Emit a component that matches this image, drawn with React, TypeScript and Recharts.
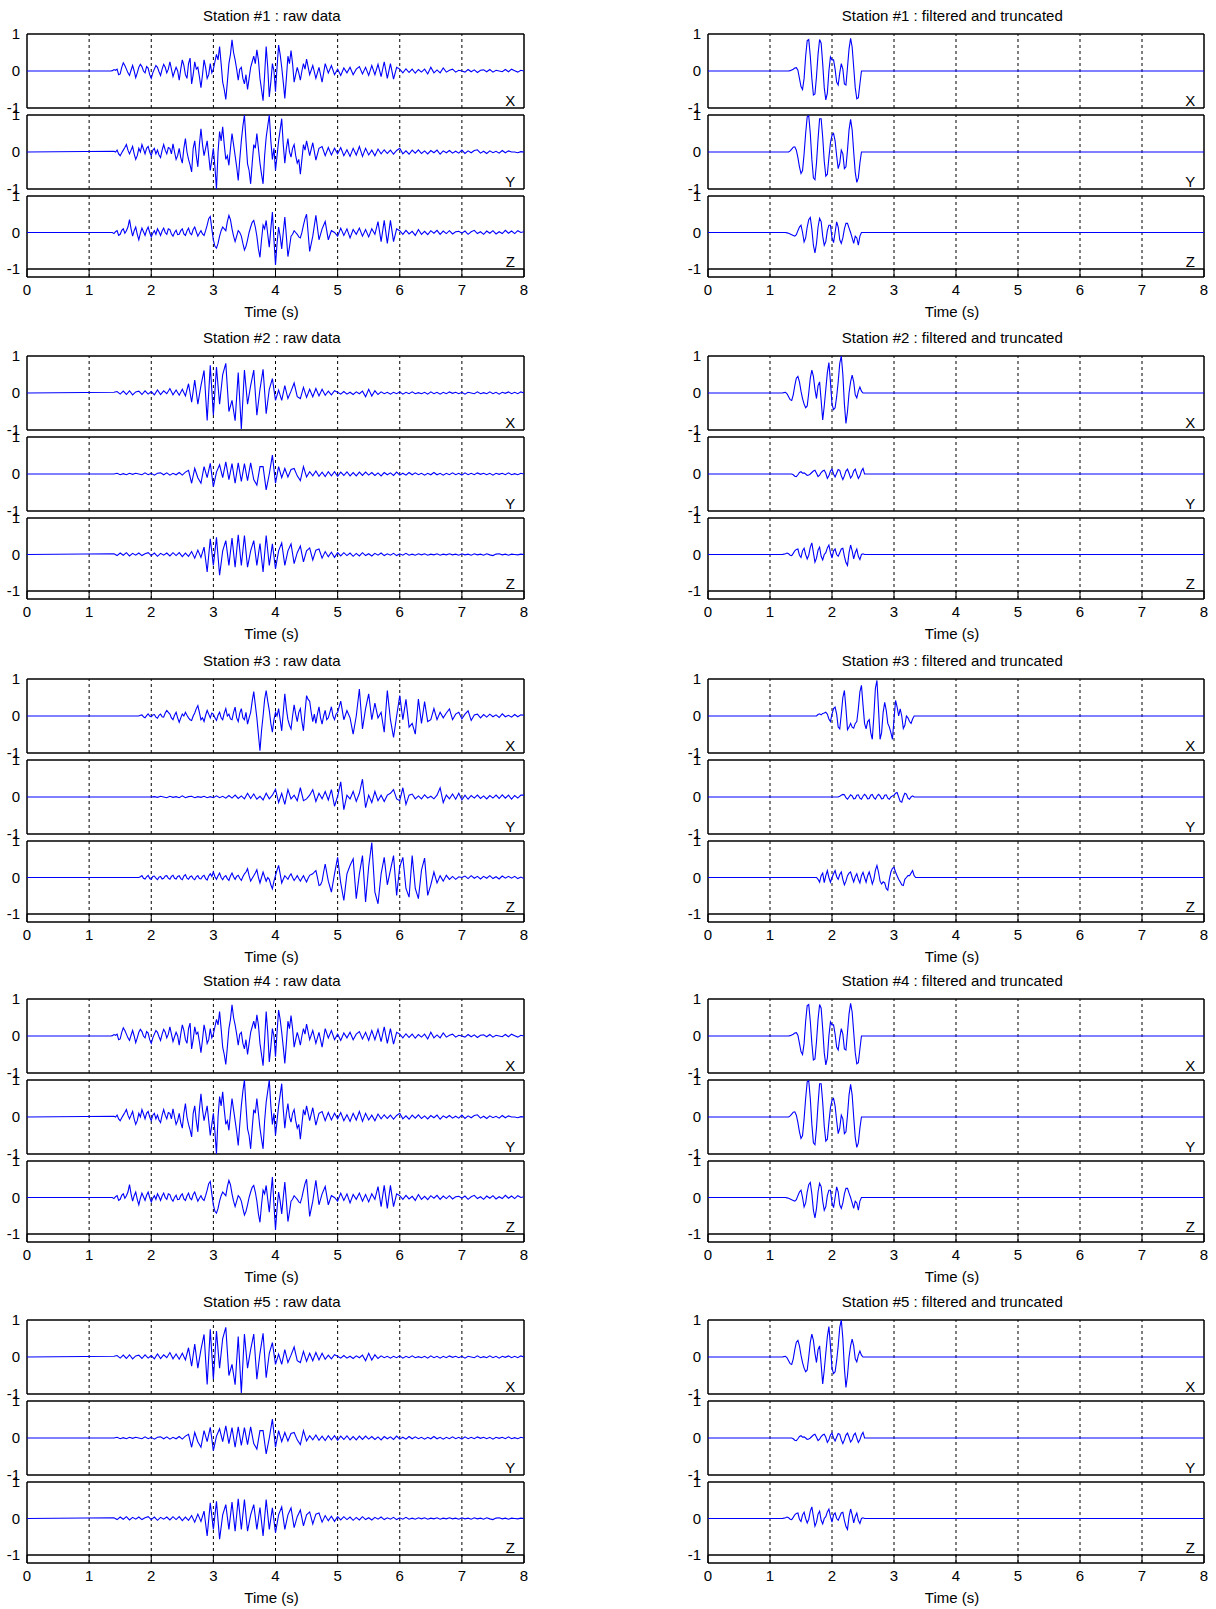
import React from 'react';
import { LineChart, Line, XAxis, YAxis, ReferenceLine, ReferenceDot } from 'recharts';

// ---------- axis / label data ----------
const TIME_TICKS = [0, 1, 2, 3, 4, 5, 6, 7, 8];
const GRID_TIMES = [1, 2, 3, 4, 5, 6, 7];
const AMP_TICKS = [-1, 0, 1];
const COMPONENT_LABELS = ['X', 'Y', 'Z'];
const STATION_TITLES = ['Station #1', 'Station #2', 'Station #3', 'Station #4', 'Station #5'];
const RAW_SUFFIX = ' : raw data';
const FILT_SUFFIX = ' : filtered and truncated';
const X_LABEL = 'Time (s)';

const FINE_DT = 0.025;
const COARSE_DT = 0.05;

// ---------- raw traces: fine head (every 0.025 s) + coarse tail (every 0.05 s) ----------
const raw1XHeadStart = 1.35;
const raw1XHead = [
  0, 0.01, 0.04, 0.02, 0.05, -0.1, -0.08, 0.1, 0.22, 0.15, 0.05, -0.05, -0.12, 0.02, 0.15, 0.0, -0.18, -0.05, 0.1, 0.18,
  0.12, 0.0, -0.05, 0.12, 0.08, -0.1, -0.2, -0.05, 0.05, 0.15, 0.1, -0.02, -0.12, 0.05, 0.18, 0.1, -0.05, 0.05, 0.25, 0.05,
  -0.15, -0.02, 0.1, 0.0, -0.25, 0.05, 0.3, 0.15, -0.1, -0.2, 0.2, 0.35, -0.35, -0.1, 0.25, 0.05, 0.1, -0.15, -0.45, -0.1,
  0.3, 0.1, -0.2, -0.1, 0.2, -0.05, 0.05, 0.25, 0.45, 0.3, 0.66, 0.2, -0.3, -0.5, -0.77, -0.3, 0.2, 0.45, 0.84, 0.5,
  0.3, 0.05, -0.25, 0.05, 0.1, -0.2, -0.35, -0.1, -0.5, -0.2, 0.1, 0.25, 0.4, 0.2, 0.57, 0.3, -0.2, -0.5, -0.8, -0.1,
  0.66, 0.1, -0.7, -0.3, 0.2, 0.0, -0.56, 0.1, 0.7, 0.45, 0.1, -0.3, -0.74, -0.2, 0.4, 0.2, 0.55, 0.2, -0.3, -0.1,
  0.1, -0.05, -0.25, 0.0, 0.2, 0.05,
];
const raw1XTailStart = 4.5;
const raw1XTail = [
  0.32, -0.1, 0.15, -0.2, 0.1, -0.3, 0.2,
  -0.05, 0.15, -0.1, 0.05, -0.12, 0.08, -0.05, 0.1, -0.1, 0.05,
  0.12, -0.08, 0.1, -0.12, 0.15, -0.1, 0.18, -0.15, 0.25, -0.2,
  0.2, -0.22, 0.1, 0.05, -0.05, 0.06, -0.04, 0.05, -0.06, 0.04,
  -0.03, 0.05, -0.08, 0.1, -0.05, 0.03, -0.05, 0.08, -0.03, 0.02,
  0.05, -0.03, 0.02, 0.0, -0.03, 0.04, -0.02, 0.03, -0.04, 0.02,
  0.03, -0.02, 0.04, -0.03, 0.02, 0.0, -0.02, 0.04, -0.02, 0.05,
  0.01, -0.03, 0.02, 0.0,
];

const raw1YHeadStart = 1.4;
const raw1YHead = [
  0.02, 0.0, 0.05, -0.05, -0.1, -0.02, 0.05, 0.12, 0.2, 0.05, -0.05, 0.05, 0.15, -0.05, -0.2, -0.1, 0.1, 0.0, 0.2, 0.08,
  -0.05, 0.1, 0.15, 0.0, -0.1, 0.05, 0.1, -0.05, 0.05, -0.08, -0.15, 0.05, 0.2, 0.05, -0.05, 0.12, 0.1, -0.05, 0.22, 0.0,
  -0.2, -0.1, 0.1, -0.15, -0.3, 0.1, 0.36, 0.0, -0.2, -0.35, -0.54, 0.1, 0.3, -0.1, -0.4, 0.2, 0.63, 0.2, -0.1, 0.1,
  0.3, -0.1, -0.5, -0.2, 0.1, -0.4, -1.0, 0.0, 0.55, 0.3, 0.68, 0.2, -0.2, -0.1, -0.36, 0.1, 0.5, 0.2, -0.1, -0.4,
  -0.77, -0.2, 0.3, 0.7, 1.0, 0.3, -0.32, -0.5, -0.86, -0.3, 0.2, 0.1, 0.5, 0.1, -0.3, -0.6, -0.86, -0.1, 0.4, 0.7,
  1.0, 0.3, -0.2, 0.1, -0.5, -0.1, 0.3, 0.6, 0.9, 0.2, -0.3, 0.1, 0.36, 0.0, -0.14, 0.1, 0.2, -0.1, -0.3, -0.2,
  -0.6, -0.2, 0.2, 0.05,
];
const raw1YTailStart = 4.5;
const raw1YTail = [
  0.3, -0.1, 0.25, -0.22, 0.1, 0.15, -0.1, 0.12,
  -0.08, 0.1, -0.05, 0.12, -0.1, 0.06, -0.12, 0.1, -0.08, 0.15,
  -0.12, 0.1, -0.08, 0.05, -0.1, 0.08, -0.05, 0.06, -0.04, 0.05,
  -0.06, 0.04, 0.1, -0.05, 0.03, -0.06, 0.05, -0.03, 0.06, -0.04,
  0.03, -0.05, 0.04, -0.02, 0.05, -0.06, 0.03, -0.02, 0.04, -0.03,
  0.02, -0.03, 0.05, -0.04, 0.03, -0.02, 0.04, 0.06, -0.03, 0.02,
  -0.04, 0.03, -0.02, 0.02, -0.03, 0.04, -0.02, 0.03, 0.0, 0.0,
  -0.02, 0.01, 0.0,
];

const raw1ZHeadStart = 1.35;
const raw1ZHead = [
  0, 0.0, -0.03, 0.02, 0.05, -0.08, -0.05, 0.06, 0.1, -0.02, 0.05, 0.15, 0.35, 0.1, -0.1, 0.05, 0.15, -0.05, -0.2, -0.02,
  0.12, 0.02, -0.08, 0.06, 0.15, 0.0, -0.12, -0.02, 0.05, -0.05, 0.1, 0.02, -0.08, 0.04, 0.12, 0.0, -0.05, 0.1, 0.08, -0.04,
  -0.1, 0.0, 0.06, -0.06, -0.05, 0.05, 0.1, -0.04, -0.08, 0.04, 0.12, -0.02, -0.06, 0.08, 0.15, 0.02, -0.1, -0.02, 0.05, -0.04,
  -0.08, 0.05, 0.2, 0.38, 0.44, 0.1, -0.2, -0.38, -0.43, -0.3, -0.1, 0.05, 0.15, 0.1, 0.05, 0.3, 0.47, 0.35, 0.1, -0.1,
  -0.25, -0.1, 0.05, 0.0, -0.1, -0.3, -0.48, -0.38, -0.2, 0.0, 0.15, 0.28, 0.33, 0.15, -0.1, -0.45, -0.68, -0.2, 0.2, 0.1,
  0.33, -0.05, -0.4, 0.1, 0.56, -0.2, -0.89, -0.3, 0.15, -0.1, -0.45, 0.0, 0.42, -0.1, -0.66, -0.4, -0.1, -0.05, 0.05, 0.0,
  -0.05, -0.12, -0.15, 0.0, 0.2, 0.38,
];
const raw1ZTailStart = 4.5;
const raw1ZTail = [
  0.5, -0.52, -0.1, 0.47, -0.2, 0.1, 0.3,
  -0.2, 0.05, 0.0, -0.1, 0.12, -0.08, 0.1, -0.15, 0.08, -0.05,
  0.12, -0.1, 0.08, -0.12, 0.1, -0.05, 0.3, -0.25, 0.33, -0.3,
  0.33, -0.25, 0.1, 0.05, -0.05, 0.06, -0.04, 0.03, -0.08, 0.08,
  -0.05, 0.03, -0.06, 0.05, -0.02, 0.06, -0.05, 0.04, -0.03, 0.05,
  -0.04, 0.02, 0.03, -0.02, 0.04, -0.05, 0.02, 0.06, -0.03, 0.02,
  -0.05, 0.04, -0.02, 0.05, -0.04, 0.02, -0.03, 0.06, -0.02, 0.04,
  -0.03, 0.05, 0.0, 0.02,
];

const raw2XStart = 1.4;
const raw2X = [
  0.02, 0.04, -0.03, 0.05, -0.04, 0.06, -0.05, 0.03, 0.05, -0.04,
  0.06, -0.03, 0.04, -0.05, 0.08, -0.04, 0.06, -0.02, 0.12, -0.05,
  0.08, -0.06, 0.1, -0.08, 0.25, -0.25, 0.35, -0.3, 0.2, 0.61,
  -0.74, 0.75, -0.6, 0.7, -0.3, 0.5, 0.8, -0.5, -0.2, -0.75,
  0.55, -0.97, 0.62, -0.3, 0.2, 0.62, -0.6, 0.1, 0.64, -0.56,
  0.1, 0.39, -0.2, 0.08, -0.2, 0.2, -0.15, 0.05, 0.27, -0.1,
  -0.15, 0.15, -0.12, 0.1, -0.1, 0.12, -0.08, 0.1, -0.06, 0.05,
  -0.05, 0.06, 0.02, -0.03, 0.04, -0.03, 0.02, -0.04, 0.03, -0.02,
  0.05, -0.1, 0.1, -0.08, 0.06, -0.04, 0.03, -0.02, 0.02, -0.03,
  0.02, -0.02, 0.03, -0.03, 0.02, -0.02, 0.03, -0.02, 0.01, -0.02,
  0.02, -0.03, 0.03, -0.02, 0.02, -0.03, 0.02, -0.02, 0.03, -0.01,
  0.02, -0.02, 0.02, -0.03, 0.02, 0.0, -0.02, 0.03, -0.02, 0.01,
  -0.02, 0.03, -0.02, 0.02, -0.03, 0.02, -0.01, 0.03, -0.02, 0.02,
  -0.02, 0.03, 0.0,
];

const raw2YStart = 1.4;
const raw2Y = [
  0.0, 0.02, -0.02, 0.01, -0.02, 0.02, -0.01, 0.02, 0.0, -0.02,
  0.03, -0.02, 0.02, -0.03, 0.02, 0.03, -0.02, 0.03, -0.03, 0.02,
  -0.02, 0.04, -0.03, 0.05, 0.1, -0.25, 0.15, -0.1, -0.25, 0.2,
  -0.1, 0.29, -0.34, 0.05, 0.25, -0.1, 0.33, -0.15, 0.28, -0.25,
  0.3, -0.2, 0.28, -0.18, 0.3, -0.15, -0.3, 0.2, 0.2, -0.43,
  0.0, 0.51, -0.25, 0.2, -0.1, 0.15, -0.08, 0.12, 0.15, -0.05,
  -0.18, 0.2, -0.08, 0.06, -0.05, 0.08, -0.06, 0.05, -0.07, 0.06,
  -0.05, 0.06, -0.06, 0.05, -0.04, 0.06, -0.05, 0.04, -0.05, 0.05,
  -0.04, 0.05, -0.03, 0.04, -0.04, 0.03, -0.05, 0.04, -0.02, 0.03,
  -0.04, 0.05, -0.03, 0.02, -0.03, 0.04, -0.02, 0.03, -0.02, 0.02,
  -0.03, 0.02, -0.02, 0.04, -0.02, 0.02, -0.03, 0.02, -0.02, 0.03,
  -0.02, 0.02, -0.03, 0.03, -0.02, 0.02, -0.02, 0.03, -0.01, 0.02,
  -0.02, 0.02, -0.03, 0.02, -0.01, 0.02, -0.02, 0.03, -0.02, 0.01,
  -0.02, 0.02, 0.0,
];

const raw2ZStart = 1.4;
const raw2Z = [
  0.02, -0.03, 0.04, -0.02, 0.05, -0.04, 0.03, -0.02, 0.04, -0.03,
  0.02, 0.05, -0.03, 0.04, -0.05, 0.03, -0.02, 0.04, -0.04, 0.05,
  -0.03, 0.05, -0.06, 0.04, -0.05, 0.08, -0.1, 0.12, -0.08, 0.2,
  -0.48, 0.43, -0.3, 0.47, -0.57, 0.1, 0.38, -0.3, 0.45, -0.35,
  0.54, -0.3, 0.52, -0.35, 0.1, 0.38, -0.3, 0.3, -0.48, 0.52,
  -0.3, 0.29, -0.39, 0.1, 0.32, -0.3, 0.1, 0.29, -0.25, 0.05,
  0.23, -0.2, 0.1, 0.18, -0.15, 0.12, 0.15, -0.1, 0.08, -0.06,
  0.06, -0.08, 0.05, -0.04, 0.05, -0.03, 0.04, -0.05, 0.03, -0.04,
  0.05, -0.03, 0.02, -0.04, 0.03, -0.02, 0.04, -0.03, 0.02, -0.02,
  0.03, -0.03, 0.02, -0.02, 0.03, -0.02, 0.01, -0.02, 0.02, -0.01,
  0.02, -0.02, 0.01, -0.01, 0.02, -0.02, 0.01, -0.01, 0.02, -0.01,
  0.01, -0.02, 0.02, -0.01, 0.01, -0.02, 0.02, -0.01, 0.01, -0.02,
  0.02, -0.01, -0.03, 0.01, 0.02, -0.01, 0.01, -0.02, 0.01, 0.0,
  -0.01, 0.01, 0.0,
];

const raw3XHeadStart = 1.8;
const raw3XHead = [
  0.0, 0.02, 0.03, -0.02, -0.05, 0.01, 0.06, 0.0, -0.02, 0.03, 0.04, -0.03, -0.06, 0.02, 0.05, -0.02, -0.03, 0.08, 0.15, 0.1,
  0.05, -0.05, -0.1, 0.02, 0.1, -0.05, -0.17, -0.05, 0.05, 0.0, 0.1, 0.02, -0.05, -0.1, -0.12, 0.0, 0.08, 0.2, 0.28, 0.1,
  -0.1, -0.05, -0.15, 0.02, 0.15, 0.05, -0.05, 0.08, 0.05, -0.05, -0.12, 0.02, 0.1, -0.05, -0.1, 0.08, 0.2, 0.0, 0.05, -0.08,
  -0.1, 0.1, 0.24, -0.05, -0.15, 0.08, 0.2, -0.05, -0.1, 0.1, -0.22, -0.05, 0.1, 0.4, 0.66, 0.3, -0.05, -0.5, -0.94, -0.4,
  0.0, 0.45, 0.69, 0.4, 0.15, -0.2, -0.44, -0.1, 0.1, 0.0, 0.2, -0.1, -0.4, 0.1, 0.6, 0.2, -0.1, -0.25, -0.35, 0.0,
  0.3, 0.05, -0.15, 0.1, 0.2, -0.15, -0.4, 0.1, 0.55, 0.45, 0.4, 0.1, -0.15, 0.05, -0.2, 0.05, 0.25, -0.05, -0.22, 0.0,
  0.15, -0.1, -0.05, 0.1, 0.25, 0.0, -0.1, 0.05,
];
const raw3XTailStart = 5.0;
const raw3XTail = [
  0.1, 0.4, -0.1, 0.15, -0.05, -0.49,
  0.0, 0.73, -0.35, 0.2, 0.6, -0.1, 0.35, -0.05, 0.1, -0.44,
  0.69, -0.1, -0.58, 0.0, 0.55, -0.1, 0.45, -0.3, -0.2, -0.49,
  0.46, -0.2, 0.39, -0.15, -0.1, 0.2, -0.1, 0.1, -0.05, 0.08,
  0.19, -0.1, 0.05, 0.1, -0.08, 0.05, 0.14, -0.12, 0.03, 0.05,
  -0.05, 0.04, -0.03, 0.05, -0.02, 0.03, -0.04, 0.06, -0.02, 0.02,
  -0.03, 0.04, -0.02, 0.03, 0.02,
];

const raw3YStart = 2.0;
const raw3Y = [
  0.0, 0.01, -0.01, 0.02, 0.0, -0.02, 0.02, -0.01, 0.01, -0.02,
  0.03, -0.02, 0.01, 0.02, -0.02, 0.01, -0.01, 0.02, -0.02, 0.01,
  -0.02, 0.03, -0.02, 0.02, -0.03, 0.04, -0.03, 0.05, -0.04, 0.03,
  -0.05, 0.1, -0.04, 0.08, -0.06, 0.02, -0.08, 0.1, -0.05, 0.05,
  0.21, -0.15, 0.1, -0.2, 0.2, -0.05, 0.05, -0.1, 0.25, -0.1,
  -0.05, 0.05, 0.2, -0.12, 0.1, -0.05, 0.15, -0.08, 0.2, -0.25,
  0.02, 0.41, -0.34, 0.05, -0.05, 0.15, -0.12, 0.1, 0.48, -0.29,
  0.05, -0.15, 0.15, -0.1, 0.05, -0.12, 0.05, 0.1, 0.2, -0.05,
  -0.1, 0.25, -0.2, 0.05, 0.08, -0.05, 0.03, -0.05, 0.06, -0.03,
  0.02, -0.05, 0.05, 0.25, -0.15, 0.05, -0.05, 0.08, -0.06, 0.1,
  -0.08, 0.05, -0.06, 0.04, -0.03, 0.05, -0.04, 0.03, -0.05, 0.04,
  -0.03, 0.05, -0.04, 0.06, -0.03, 0.05, -0.06, 0.04, -0.03, 0.05,
  0.05,
];

const raw3ZHeadStart = 1.8;
const raw3ZHead = [
  0.0, 0.02, 0.05, -0.02, -0.04, 0.02, 0.06, -0.03, -0.05, 0.03, 0.04, -0.02, -0.06, 0.01, 0.03, -0.04, -0.02, 0.04, 0.05, -0.02,
  -0.05, 0.03, 0.06, -0.02, -0.04, 0.03, 0.05, -0.03, -0.06, 0.04, 0.08, -0.02, -0.05, 0.02, 0.04, -0.03, -0.06, 0.02, 0.05, -0.03,
  -0.04, 0.03, 0.06, -0.03, -0.07, 0.04, 0.1, 0.03, 0.15, 0.02, -0.05, 0.05, 0.12, 0.0, -0.06, 0.02, 0.05, -0.03, -0.08, 0.04,
  0.12, 0.02, -0.05, 0.03, 0.06, -0.02, -0.08, 0.02, 0.1, 0.15, 0.24, 0.05, -0.1, -0.02, 0.05, 0.12, 0.21, 0.0, -0.15, 0.0,
  0.15, 0.02, -0.1, 0.0, -0.05, -0.2, -0.31, -0.1, 0.05, 0.2, 0.33, 0.1, -0.15, -0.05, 0.05, 0.0, -0.05, 0.04, 0.1, 0.0,
  -0.08, -0.02, 0.05, -0.03, -0.1, -0.02, 0.05, -0.04, -0.12, -0.02, 0.06, 0.08, 0.1, 0.15, 0.19, 0.0, -0.22, -0.2, -0.1, 0.15,
];
const raw3ZTailStart = 4.8;
const raw3ZTail = [
  0.37, -0.1, -0.4, 0.1, 0.55, -0.15, -0.63, 0.1, 0.33, 0.51,
  -0.58, 0.1, 0.6, -0.67, 0.3, 0.96, -0.4, -0.72, 0.1, 0.55,
  -0.2, 0.2, 0.6, -0.49, 0.3, 0.55, -0.3, -0.54, 0.6, -0.3,
  -0.58, 0.2, 0.53, -0.49, -0.2, 0.15, -0.15, 0.05, -0.1, 0.06,
  -0.05, 0.03, -0.05, 0.02, 0.0, 0.04, -0.03, 0.05, -0.02, 0.03,
  -0.04, 0.03, -0.02, 0.05, -0.03, 0.02, -0.04, 0.04, -0.02, 0.03,
  -0.02, 0.03, -0.03, 0.01, -0.03,
];

// ---------- filtered traces (every 0.025 s from start) ----------
const filt1XStart = 1.3;
const filt1X = [
  0, 0.01, 0.03, 0.05, 0.08, 0.09, 0.02, -0.2, -0.42, -0.5,
  -0.2, 0.4, 0.82, 0.85, 0.4, -0.2, -0.65, -0.62, -0.15, 0.45,
  0.85, 0.75, 0.2, -0.45, -0.78, -0.6, 0.0, 0.38, 0.3, 0.3,
  0.05, -0.3, -0.38, -0.05, 0.2, 0.05, -0.35, -0.38, 0.1, 0.6,
  0.88, 0.65, 0.1, -0.45, -0.75, -0.72, -0.35, 0.0, 0.0,
];

const filt1YStart = 1.3;
const filt1Y = [
  0, 0.03, 0.08, 0.13, 0.14, 0.05, -0.15, -0.4, -0.58, -0.5,
  -0.05, 0.5, 0.95, 0.98, 0.5, -0.2, -0.7, -0.75, -0.3, 0.35,
  0.9, 0.9, 0.4, -0.25, -0.65, -0.6, -0.15, 0.25, 0.45, 0.5,
  0.3, -0.1, -0.45, -0.3, 0.05, -0.05, -0.45, -0.4, 0.05, 0.6,
  0.88, 0.6, 0.0, -0.55, -0.82, -0.7, -0.3, 0.0, 0.0,
];

const filt1ZStart = 1.25;
const filt1Z = [
  0, -0.01, -0.02, -0.04, -0.06, -0.08, -0.1, -0.06, 0.05, 0.15,
  0.2, 0.0, -0.26, -0.15, 0.15, 0.35, 0.41, 0.1, -0.35, -0.56,
  -0.3, 0.15, 0.39, 0.3, -0.1, -0.35, -0.25, 0.05, 0.2, 0.2,
  -0.15, -0.28, 0.0, 0.29, 0.15, -0.2, -0.3, -0.15, 0.1, 0.25,
  0.25, 0.12, 0.0, -0.15, -0.3, -0.1, -0.15, -0.35, -0.1, 0.0,
];

const filt2XStart = 1.2;
const filt2X = [
  0, 0.01, 0.02, -0.02, -0.1, -0.18, -0.2, -0.05, 0.2, 0.4,
  0.45, 0.3, 0.05, -0.15, -0.3, -0.4, -0.35, 0.0, 0.4, 0.62,
  0.45, 0.1, -0.15, 0.2, 0.3, -0.2, -0.73, -0.35, 0.1, 0.55,
  0.82, 0.3, -0.3, -0.45, -0.4, -0.1, 0.3, 0.8, 1.0, 0.5,
  -0.3, -0.82, -0.5, 0.0, 0.3, 0.48, 0.3, -0.05, -0.13, 0.05,
  0.16, 0.05, 0.0,
];

const filt2YStart = 1.35;
const filt2Y = [
  0, -0.02, -0.06, -0.07, -0.02, 0.04, 0.06, 0.02, 0.03, 0.0,
  -0.04, -0.03, 0.0, 0.04, 0.08, 0.1, 0.02, -0.07, -0.03, 0.04,
  0.08, 0.1, 0.02, -0.12, -0.05, 0.08, 0.13, 0.0, -0.08, 0.02,
  0.12, 0.1, -0.05, -0.15, -0.05, 0.08, 0.13, 0.02, -0.11, -0.05,
  0.08, 0.13, 0.0, -0.12, -0.05, 0.08, 0.15, 0.0,
];

const filt2ZStart = 1.2;
const filt2Z = [
  0, 0.01, 0.02, 0.04, 0.02, -0.02, -0.03, 0.03, 0.1, 0.14,
  0.15, -0.02, -0.08, 0.1, 0.17, 0.0, -0.12, -0.02, 0.2, 0.32,
  0.05, -0.21, -0.1, 0.12, 0.2, -0.05, -0.15, 0.0, 0.05, 0.18,
  0.26, 0.05, -0.1, 0.1, 0.15, 0.0, -0.05, 0.05, 0.15, 0.17,
  -0.05, -0.22, -0.3, 0.05, 0.26, 0.1, -0.12, 0.05, 0.15, -0.05,
  -0.14, 0.0, 0.02, 0.0,
];

const filt3XStart = 1.75;
const filt3X = [
  0, 0.04, 0.06, 0.03, 0.07, 0.08, 0.1, 0.05, -0.08, -0.15,
  0.05, 0.2, 0.24, 0.05, -0.3, -0.35, 0.05, 0.5, 0.69, 0.2,
  -0.37, -0.3, -0.2, -0.3, -0.33, -0.2, -0.15, 0.2, 0.65, 0.83,
  0.3, -0.2, -0.35, -0.15, -0.1, -0.45, -0.63, 0.0, 0.75, 0.96,
  0.2, -0.63, -0.45, 0.1, 0.37, 0.15, -0.2, -0.3, -0.45, -0.63,
  -0.1, 0.42, 0.25, 0.0, 0.19, 0.0, -0.34, -0.25, 0.0, -0.05,
  -0.15, -0.2, -0.08, 0.0,
];

const filt3YStart = 2.1;
const filt3Y = [
  0, 0.02, 0.05, 0.07, 0.06, -0.02, -0.06, 0.0, 0.06, 0.03,
  -0.05, -0.04, 0.05, 0.06, -0.03, -0.06, 0.02, 0.07, 0.03, -0.05,
  -0.04, 0.05, 0.07, -0.02, -0.06, 0.02, 0.07, 0.03, -0.05, -0.04,
  0.05, 0.06, -0.03, -0.06, 0.0, 0.03, 0.05, 0.1, 0.12, 0.0,
  -0.12, -0.14, 0.0, 0.1, 0.08, -0.03, -0.06, 0.0, 0.03, 0.0,
];

const filt3ZStart = 1.75;
const filt3Z = [
  0, -0.05, -0.13, 0.05, 0.12, -0.14, 0.05, 0.19, 0.0, -0.13,
  0.0, 0.1, 0.19, 0.02, -0.05, 0.08, 0.15, -0.05, -0.2, -0.1,
  0.05, 0.12, 0.15, 0.0, -0.12, 0.02, 0.1, -0.05, -0.15, 0.05,
  0.14, 0.0, -0.13, 0.05, 0.15, 0.0, -0.18, -0.05, 0.2, 0.33,
  0.15, -0.1, -0.18, -0.12, -0.15, -0.3, -0.35, -0.05, 0.15, 0.25,
  0.28, 0.15, 0.05, -0.05, -0.12, -0.2, -0.22, -0.05, 0.0, 0.05,
  0.05, 0.12, 0.19, 0.05, 0.0,
];

// ---------- station composition (segments: [start, dt, values]) ----------
const R1X = [[raw1XHeadStart, FINE_DT, raw1XHead], [raw1XTailStart, COARSE_DT, raw1XTail]];
const R1Y = [[raw1YHeadStart, FINE_DT, raw1YHead], [raw1YTailStart, COARSE_DT, raw1YTail]];
const R1Z = [[raw1ZHeadStart, FINE_DT, raw1ZHead], [raw1ZTailStart, COARSE_DT, raw1ZTail]];
const R2X = [[raw2XStart, COARSE_DT, raw2X]];
const R2Y = [[raw2YStart, COARSE_DT, raw2Y]];
const R2Z = [[raw2ZStart, COARSE_DT, raw2Z]];
const R3X = [[raw3XHeadStart, FINE_DT, raw3XHead], [raw3XTailStart, COARSE_DT, raw3XTail]];
const R3Y = [[raw3YStart, COARSE_DT, raw3Y]];
const R3Z = [[raw3ZHeadStart, FINE_DT, raw3ZHead], [raw3ZTailStart, COARSE_DT, raw3ZTail]];
const F1X = [[filt1XStart, FINE_DT, filt1X]];
const F1Y = [[filt1YStart, FINE_DT, filt1Y]];
const F1Z = [[filt1ZStart, FINE_DT, filt1Z]];
const F2X = [[filt2XStart, FINE_DT, filt2X]];
const F2Y = [[filt2YStart, FINE_DT, filt2Y]];
const F2Z = [[filt2ZStart, FINE_DT, filt2Z]];
const F3X = [[filt3XStart, FINE_DT, filt3X]];
const F3Y = [[filt3YStart, FINE_DT, filt3Y]];
const F3Z = [[filt3ZStart, FINE_DT, filt3Z]];

const RAW_TRACES = [
  [R1X, R1Y, R1Z],
  [R2X, R2Y, R2Z],
  [R3X, R3Y, R3Z],
  [R1X, R1Y, R1Z],
  [R2X, R2Y, R2Z],
];
const FILT_TRACES = [
  [F1X, F1Y, F1Z],
  [F2X, F2Y, F2Z],
  [F3X, F3Y, F3Z],
  [F1X, F1Y, F1Z],
  [F2X, F2Y, F2Z],
];

// ---------- layout ----------
const STATION_TOP = [34, 356, 679, 999, 1320];
const BOX_OFFSET = [0, 81, 162];
const BOX_H = [74, 74, 81];
const PANEL_X0 = [27, 708];
const PANEL_W = [497, 496];
const YAXIS_W = 27;
const XAXIS_H = 44;
const PAD = 10;
const PAD_R = 10;
const FONT = '"Liberation Sans", Arial, Helvetica, sans-serif';
const FS = 15;

function toSeries(segments: any[]) {
  const pts: { t: number; v: number }[] = [{ t: 0, v: 0 }];
  segments.forEach(([start, dt, values]: any) => {
    values.forEach((v: number, i: number) => {
      pts.push({ t: Math.round((start + i * dt) * 1000) / 1000, v });
    });
  });
  if (pts[pts.length - 1].t < 8) pts.push({ t: 8, v: 0 });
  return pts;
}

function Sub({ left, top, plotW, data, label, bottom }: any) {
  const h = BOX_H[bottom ? 2 : 0];
  const domain = bottom ? [-1.22, 1] : [-1, 1];
  const axisH = bottom ? XAXIS_H : 0;
  const padB = bottom ? 0 : PAD;
  return (
    <div style={{ position: 'absolute', left: left - YAXIS_W, top: top - PAD }}>
      <LineChart
        width={YAXIS_W + plotW + PAD_R}
        height={PAD + h + axisH + padB}
        data={data}
        margin={{ top: PAD, right: PAD_R, bottom: padB, left: 0 }}
      >
        <XAxis
          type="number"
          dataKey="t"
          domain={[0, 8]}
          ticks={TIME_TICKS}
          interval={0}
          allowDataOverflow
          hide={!bottom}
          height={axisH}
          axisLine={false}
          tickSize={-8}
          tickMargin={15}
          tickLine={{ stroke: '#000' }}
          tick={{ fill: '#000', fontSize: FS }}
          label={{ value: X_LABEL, position: 'insideBottom', offset: 4, fill: '#000', fontSize: FS, dx: -4 }}
        />
        <YAxis
          type="number"
          domain={domain}
          ticks={AMP_TICKS}
          interval={0}
          allowDataOverflow
          width={YAXIS_W}
          axisLine={false}
          tickLine={false}
          tickSize={0}
          tickMargin={7}
          tick={{ fill: '#000', fontSize: FS }}
        />
        {GRID_TIMES.map((g) => (
          <ReferenceLine key={g} x={g} stroke="#000" strokeDasharray="3 3" ifOverflow="visible" />
        ))}
        <ReferenceLine y={1} stroke="#000" strokeWidth={1.5} ifOverflow="visible" />
        <ReferenceLine y={domain[0]} stroke="#000" strokeWidth={1.5} ifOverflow="visible" />
        {bottom && <ReferenceLine y={-1} stroke="#000" strokeWidth={1.5} ifOverflow="visible" />}
        <ReferenceLine x={0} stroke="#000" strokeWidth={1.5} ifOverflow="visible" />
        <ReferenceLine x={8} stroke="#000" strokeWidth={1.5} ifOverflow="visible" />
        <Line
          type="linear"
          dataKey="v"
          stroke="#0000ff"
          strokeWidth={1.1}
          dot={false}
          activeDot={false}
          isAnimationActive={false}
        />
        <ReferenceDot
          x={7.78}
          y={-0.8}
          r={0}
          fill="none"
          stroke="none"
          ifOverflow="visible"
          label={{ value: label, position: 'center', fill: '#000', fontSize: FS }}
        />
      </LineChart>
    </div>
  );
}

export default function App() {
  const items: any[] = [];
  STATION_TITLES.forEach((name, s) => {
    const T = STATION_TOP[s];
    [0, 1].forEach((p) => {
      const traces = p === 0 ? RAW_TRACES[s] : FILT_TRACES[s];
      const x0 = PANEL_X0[p];
      const w = PANEL_W[p];
      const cx = x0 + (w * 3.94) / 8;
      items.push(
        <div
          key={`title-${s}-${p}`}
          style={{
            position: 'absolute',
            left: cx - 200,
            width: 400,
            top: T - 28,
            lineHeight: '20px',
            textAlign: 'center',
            fontSize: FS,
            color: '#000',
          }}
        >
          {name + (p === 0 ? RAW_SUFFIX : FILT_SUFFIX)}
        </div>
      );
      traces.forEach((segments: any, c: number) => {
        items.push(
          <Sub
            key={`sub-${s}-${p}-${c}`}
            left={x0}
            top={T + BOX_OFFSET[c]}
            plotW={w}
            data={toSeries(segments)}
            label={COMPONENT_LABELS[c]}
            bottom={c === 2}
          />
        );
      });
    });
  });
  return (
    <div
      style={{
        position: 'absolute',
        left: 0,
        top: 0,
        width: 1216,
        height: 1609,
        background: '#fff',
        fontFamily: FONT,
        overflow: 'hidden',
      }}
    >
      {items}
    </div>
  );
}
